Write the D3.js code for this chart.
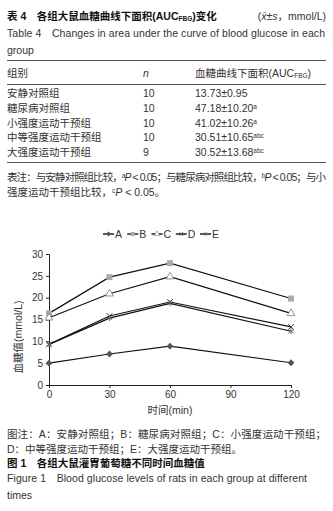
<!DOCTYPE html>
<html>
<head>
<meta charset="utf-8">
<script src="https://cdn.jsdelivr.net/npm/d3@7"></script>
<style>
  html, body { margin: 0; padding: 0; background: #fff; }
  svg { display: block; }
  text { font-family: "Liberation Sans", Arial, "Noto Sans CJK SC", sans-serif; fill: #333; }
  .cap { font-size: 10.5px; }
  .bold { font-weight: bold; fill: #111; }
</style>
</head>
<body>
<div id="chart"></div>
<script>
// Table 4 + Figure 1: AUC table and blood glucose curves over time per group.

const tableGroups = ['安静对照组', '糖尿病对照组', '小强度运动干预组', '中等强度运动干预组', '大强度运动干预组'];
const tableN = [10, 10, 10, 10, 9];
const tableAUC = ['13.73±0.95', '47.18±10.20', '41.02±10.26', '30.51±10.65', '30.52±13.68'];
const tableSup = ['', 'a', 'a', 'abc', 'abc'];

const seriesNames = ['A', 'B', 'C', 'D', 'E'];
const times = [0, 30, 60, 120];
const groupA = [5.0, 7.1, 8.9, 5.1];
const groupB = [16.4, 24.7, 27.9, 19.8];
const groupC = [15.4, 20.9, 24.8, 16.4];
const groupD = [9.3, 15.8, 19.0, 13.3];
const groupE = [9.3, 15.3, 18.7, 12.3];
const xTicks = [0, 30, 60, 90, 120];
const yTicks = [0, 5, 10, 15, 20, 25, 30];

const W = 333, H = 511;
const svg = d3.select('#chart').append('svg')
  .attr('width', W).attr('height', H)
  .attr('viewBox', `0 0 ${W} ${H}`);

// helper: a text line made of tspans [{t, it, sup, sub}]
function line(x, y, parts, opts = {}) {
  const t = svg.append('text').attr('x', x).attr('y', y).attr('class', opts.cls || 'cap');
  if (opts.anchor) t.attr('text-anchor', opts.anchor);
  for (const p of parts) {
    const s = t.append('tspan').text(p.t);
    if (p.it) s.attr('font-style', 'italic');
    if (p.sup) s.attr('font-size', '6.5px').attr('baseline-shift', '40%');
    if (p.sub) s.attr('font-size', '6.5px').attr('baseline-shift', '-15%');
  }
  // squeeze/stretch to the width the line takes in the print
  if (opts.width) t.attr('textLength', opts.width).attr('lengthAdjust', 'spacing');
  return t;
}

// ---- Table caption
line(7, 20, [{ t: '表 4　各组大鼠血糖曲线下面积(AUC' }, { t: 'FBG', sub: true }, { t: ')变化' }], { cls: 'cap bold' });
line(326, 20, [{ t: '(' }, { t: 'x̄', it: true }, { t: '±' }, { t: 's', it: true }, { t: '，mmol/L)' }], { anchor: 'end' });
line(7, 37, [{ t: 'Table 4　Changes in area under the curve of blood glucose in each' }], { width: 318 });
line(7, 54, [{ t: 'group' }]);

// ---- Table
const rule = (y) => svg.append('line').attr('x1', 7).attr('x2', 326).attr('y1', y).attr('y2', y)
  .attr('stroke', '#555').attr('stroke-width', 1);
rule(60.5); rule(84.5); rule(162.5);
line(7, 77, [{ t: '组别' }]);
line(143, 77, [{ t: 'n', it: true }]);
line(195, 77, [{ t: '血糖曲线下面积(AUC' }, { t: 'FBG', sub: true }, { t: ')' }]);
const rowY = d3.scalePoint().domain(d3.range(tableGroups.length)).range([97, 156]);
tableGroups.forEach((g, i) => {
  line(7, rowY(i), [{ t: g }]);
  line(143, rowY(i), [{ t: String(tableN[i]) }]);
  line(195, rowY(i), [{ t: tableAUC[i] }, { t: tableSup[i], sup: true }]);
});
line(7, 181, [{ t: '表注：与安静对照组比较，' }, { t: 'a', sup: true }, { t: 'P', it: true },
  { t: ' < 0.05；与糖尿病对照组比较，' }, { t: 'b', sup: true }, { t: 'P', it: true }, { t: ' < 0.05；与小' }],
  { width: 319 });
line(7, 196, [{ t: '强度运动干预组比较，' }, { t: 'c', sup: true }, { t: 'P', it: true }, { t: ' < 0.05。' }]);

// ---- Chart
const x = d3.scaleLinear().domain([0, 120]).range([49, 291]);
const y = d3.scaleLinear().domain([0, 30]).range([385, 254]);

svg.append('g')
  .attr('transform', `translate(0,${y(0)})`)
  .call(d3.axisBottom(x).tickValues(xTicks).tickSize(3).tickPadding(3));
svg.append('g')
  .attr('transform', `translate(${x(0)},0)`)
  .call(d3.axisLeft(y).tickValues(yTicks).tickSize(3).tickPadding(3));
svg.selectAll('.domain').attr('stroke', '#222');
svg.selectAll('.tick line').attr('stroke', '#222');
svg.selectAll('.tick text').attr('font-size', 10).attr('fill', '#333')
  .attr('font-family', '"Liberation Sans", Arial, sans-serif');

svg.append('text').attr('class', 'cap').attr('font-size', '9px')
  .attr('x', 170).attr('y', 414).attr('text-anchor', 'middle').text('时间(min)');
svg.append('text').attr('class', 'cap').attr('font-size', '9px')
  .attr('transform', `translate(22,${y(11)}) rotate(-90)`)
  .attr('text-anchor', 'middle').text('血糖值(mmol/L)');

const series = [groupA, groupB, groupC, groupD, groupE];
const lineGen = d3.line().x((d, i) => x(times[i])).y((d) => y(d));

const markers = {
  A: (g) => g.append('path').attr('d', d3.symbol(d3.symbolDiamond2, 30)()).attr('fill', '#555'),
  B: (g) => g.append('path').attr('d', d3.symbol(d3.symbolSquare, 36)()).attr('fill', '#aaa'),
  C: (g) => g.append('path').attr('d', d3.symbol(d3.symbolTriangle, 26)()).attr('fill', '#fff')
    .attr('stroke', '#777').attr('stroke-width', 0.8),
  D: (g) => g.append('path').attr('d', d3.symbol(d3.symbolTimes, 22)()).attr('fill', 'none')
    .attr('stroke', '#333').attr('stroke-width', 1),
  E: (g) => g.append('path').attr('d', d3.symbol(d3.symbolAsterisk, 26)()).attr('fill', 'none')
    .attr('stroke', '#666').attr('stroke-width', 0.9),
};

series.forEach((vals, k) => {
  const name = seriesNames[k];
  svg.append('path').datum(vals).attr('d', lineGen)
    .attr('fill', 'none').attr('stroke', '#111').attr('stroke-width', 1.2);
  svg.append('g').selectAll('g').data(vals).join('g')
    .attr('transform', (d, i) => `translate(${x(times[i])},${y(d)})`)
    .each(function () { markers[name](d3.select(this)); });
});

// ---- Legend
const legX = d3.scalePoint().domain(seriesNames).range([103, 200]);
seriesNames.forEach((n) => {
  const g = svg.append('g').attr('transform', `translate(${legX(n)},234)`);
  g.append('line').attr('x1', 0).attr('x2', 11).attr('stroke', '#111').attr('stroke-width', 1.4);
  markers[n](g.append('g').attr('transform', 'translate(5.5,0) scale(0.7)'));
  g.append('text').attr('x', 12).attr('y', 4).attr('class', 'cap').text(n);
});

// ---- Figure caption
line(7, 438, [{ t: '图注：A：安静对照组；B：糖尿病对照组；C：小强度运动干预组；' }], { width: 319 });
line(7, 453, [{ t: 'D：中等强度运动干预组；E：大强度运动干预组。' }]);
line(7, 467, [{ t: '图 1　各组大鼠灌胃葡萄糖不同时间血糖值' }], { cls: 'cap bold' });
line(7, 482, [{ t: 'Figure 1　Blood glucose levels of rats in each group at different' }], { width: 300 });
line(7, 499, [{ t: 'times' }]);
</script>
</body>
</html>
